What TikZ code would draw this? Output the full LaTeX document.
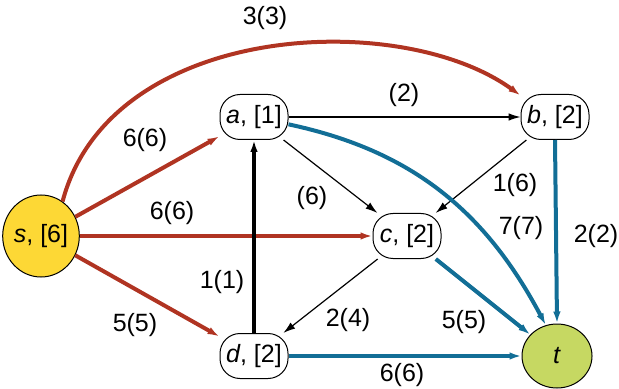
\documentclass[tikz,border=0pt]{standalone}
\usepackage{fontspec}
\setmainfont{Liberation Sans}
\usetikzlibrary{shapes.geometric,arrows.meta}
\definecolor{flowred}{RGB}{176,52,34}
\definecolor{flowblue}{RGB}{18,110,150}
\definecolor{srcyellow}{RGB}{253,216,53}
\definecolor{sinkgreen}{RGB}{198,216,98}
\tikzset{
  vtx/.style={draw,line width=0.5pt,rounded corners=10pt,fill=white,minimum width=34pt,minimum height=22.5pt,inner sep=1pt},
  term/.style={draw,line width=0.5pt,ellipse,inner sep=0pt},
  lbl/.style={font=\fontsize{12.5}{14}\selectfont},
  thin/.style={line width=0.6pt,-{Latex[length=6pt,width=3.8pt]}},
  redflow/.style={flowred,line width=2pt,-{Latex[length=6pt,width=3.8pt]}},
  blueflow/.style={flowblue,line width=2pt,-{Latex[length=6pt,width=3.8pt]}},
  blackflow/.style={line width=2.4pt,-{Latex[length=6pt,width=3.8pt]}}
}
\begin{document}
\begin{tikzpicture}[x=0.5pt,y=-0.5pt,font=\fontsize{12.5}{14}\selectfont]
\useasboundingbox (0,0) rectangle (619,389);
% vertices
\node[term,fill=srcyellow,minimum width=38pt,minimum height=41pt] (s) at (41,236) {\textit{s}, [6]};
\node[vtx] (a) at (254,117) {\textit{a}, [1]};
\node[vtx] (b) at (555,117) {\textit{b}, [2]};
\node[vtx] (c) at (407,236) {\textit{c}, [2]};
\node[vtx] (d) at (254,356) {\textit{d}, [2]};
\node[term,fill=sinkgreen,minimum width=35pt,minimum height=32pt] (t) at (557,356) {\textit{t}};
% edges
\draw[redflow] (s.58) .. controls (110,22) and (400,8) .. (b.148);
\draw[redflow] (s) -- (a);
\draw[redflow] (s) -- (c);
\draw[redflow] (s) -- (d);
\draw[thin] (a) -- (b);
\draw[thin] (a) -- (c);
\draw[thin] (b) -- (c);
\draw[thin] (c) -- (d);
\draw[blackflow] (d) -- (a);
\draw[blueflow] (a.-12) to[out=-12,in=118] (t.110);
\draw[blueflow] (b.-90) -- (t.90);
\draw[blueflow] (c) -- (t);
\draw[blueflow] (d) -- (t);
% labels
\node[lbl] (l1) at (265,18) {3(3)};
\node[lbl] (l2) at (145,140) {6(6)};
\node[lbl] (l3) at (404,95) {(2)};
\node[lbl] (l4) at (312,198) {(6)};
\node[lbl] (l5) at (172,213) {6(6)};
\node[lbl] (l6) at (515,185) {1(6)};
\node[lbl] (l7) at (521,228) {7(7)};
\node[lbl] (l8) at (596,236) {2(2)};
\node[lbl] (l9) at (222,282) {1(1)};
\node[lbl] (l10) at (135,325) {5(5)};
\node[lbl] (l11) at (348,320) {2(4)};
\node[lbl] (l12) at (464,322) {5(5)};
\node[lbl] (l13) at (402,375) {6(6)};
\end{tikzpicture}
\end{document}
